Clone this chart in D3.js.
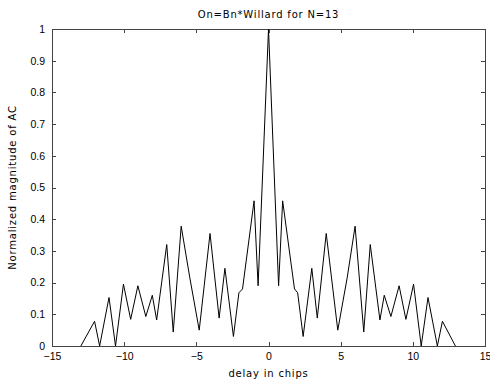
<!DOCTYPE html>
<html lang="en">
    <head>
        <meta charset="utf-8">
        <title>On=Bn*Willard for N=13</title>
        <script src="https://d3js.org/d3.v7.min.js"></script>
        <style type="text/css">
            body {
                margin: 0;
                background: white;
            }
            .axis path,
            .axis line {
                stroke: #444;
                shape-rendering: crispEdges;
            }
            .axis text {
                font-family: "Liberation Sans", Arial, sans-serif;
                font-size: 10.5px;
                fill: black;
            }
            .line {
                fill: none;
                stroke: black;
                stroke-width: 1px;
            }
            .label {
                font-family: "DejaVu Sans", sans-serif;
                font-size: 10px;
                letter-spacing: 0.8px;
                fill: black;
            }
        </style>
    </head>
    <body>
        <script type="text/javascript">

            const w = 490;
            const h = 381;
            const margin = {top: 29, right: 5, bottom: 35, left: 52};

            // delay (chips) and normalized AC magnitude
            const delays = [-13, -12.05, -11.7, -11.05, -10.6, -10.05, -9.55, -9.05, -8.5, -8.05,
                            -7.75, -7.05, -6.6, -6.05, -5.45, -4.8, -4.05, -3.42, -3.02, -2.43,
                            -2.05, -1.8, -1.0, -0.72, 0, 0.7, 0.98, 1.8, 2.02, 2.4,
                            3.0, 3.38, 4.0, 4.8, 5.45, 6.0, 6.6, 7.05, 7.72, 8.02,
                            8.48, 9.05, 9.52, 10.05, 10.58, 11.05, 11.7, 12.05, 12.95];
            const magnitude = [0, 0.078, 0, 0.153, 0, 0.195, 0.084, 0.19, 0.093, 0.16,
                               0.082, 0.32, 0.044, 0.378, 0.215, 0.05, 0.355, 0.088, 0.245, 0.03,
                               0.168, 0.18, 0.458, 0.19, 1.0, 0.19, 0.458, 0.18, 0.168, 0.03,
                               0.245, 0.088, 0.355, 0.05, 0.215, 0.378, 0.044, 0.32, 0.082, 0.16,
                               0.093, 0.19, 0.084, 0.195, 0, 0.153, 0, 0.078, 0];
            const xTicks = [-15, -10, -5, 0, 5, 10, 15];
            const yTicks = [0, 0.1, 0.2, 0.3, 0.4, 0.5, 0.6, 0.7, 0.8, 0.9, 1];

            const data = delays.map((d, i) => ({x: d, y: magnitude[i]}));

            const xScale = d3.scaleLinear()
                             .domain([-15, 15])
                             .range([margin.left, w - margin.right]);

            const yScale = d3.scaleLinear()
                             .domain([0, 1])
                             .range([h - margin.bottom, margin.top]);

            const svg = d3.select("body")
                    .append("svg")
                    .attr("width", w)
                    .attr("height", h);

            // bottom axis, ticks pointing inward
            svg.append("g")
               .attr("class", "axis")
               .attr("transform", "translate(0," + (h - margin.bottom) + ")")
               .call(d3.axisBottom(xScale).tickValues(xTicks).tickSizeInner(-4).tickSizeOuter(0).tickPadding(7));

            // top axis, ticks only
            svg.append("g")
               .attr("class", "axis")
               .attr("transform", "translate(0," + margin.top + ")")
               .call(d3.axisTop(xScale).tickValues(xTicks).tickSizeInner(-4).tickSizeOuter(0).tickFormat(""));

            // left axis
            svg.append("g")
               .attr("class", "axis")
               .attr("transform", "translate(" + margin.left + ",0)")
               .call(d3.axisLeft(yScale).tickValues(yTicks).tickSizeInner(-4).tickSizeOuter(0).tickPadding(7)
                     .tickFormat(d3.format("~g")));

            // right axis, ticks only
            svg.append("g")
               .attr("class", "axis")
               .attr("transform", "translate(" + (w - margin.right) + ",0)")
               .call(d3.axisRight(yScale).tickValues(yTicks).tickSizeInner(-4).tickSizeOuter(0).tickFormat(""));

            const coords = d3.line()
                .x(d => xScale(d.x))
                .y(d => yScale(d.y));

            svg.append("path")
               .datum(data)
               .attr("class", "line")
               .attr("d", coords);

            // title and axis labels
            svg.append("text")
               .attr("class", "label")
               .attr("x", xScale(0))
               .attr("y", 18)
               .attr("text-anchor", "middle")
               .text("On=Bn*Willard for N=13");

            svg.append("text")
               .attr("class", "label")
               .attr("x", xScale(0))
               .attr("y", 377)
               .attr("text-anchor", "middle")
               .text("delay in chips");

            svg.append("text")
               .attr("class", "label")
               .attr("transform", "translate(16," + yScale(0.5) + ") rotate(-90)")
               .attr("text-anchor", "middle")
               .text("Normalized magnitude of AC");

        </script>
    </body>
</html>
